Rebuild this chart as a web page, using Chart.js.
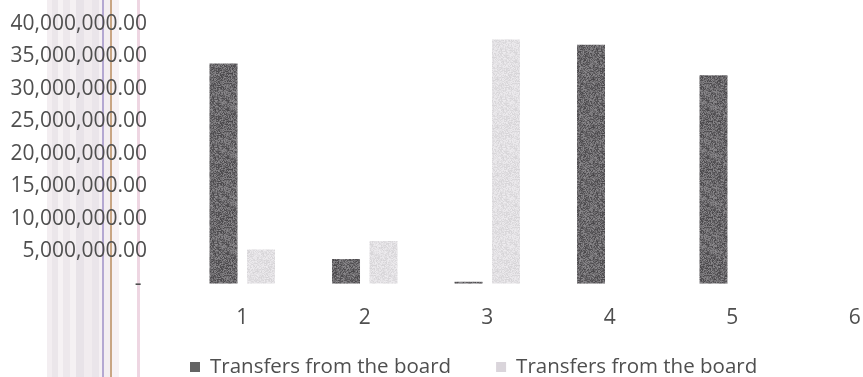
<!DOCTYPE html>
<html>
<head>
<meta charset="utf-8">
<script src="https://cdn.jsdelivr.net/npm/chart.js@4/dist/chart.umd.min.js"></script>
<style>
  html, body { margin: 0; padding: 0; background: #ffffff; overflow: hidden; }
  #wrap { position: relative; width: 920px; height: 377px; }
  /* faint vertical binding streaks down the left margin */
  #streaks {
    position: absolute; left: 0; top: 0; width: 150px; height: 377px;
    background: linear-gradient(to right,
      transparent 0 47px,
      #f3eef1 47px 52px,
      #ebe6ea 52px 58px,
      #f6f2f4 58px 63px,
      #ede8ec 63px 70px,
      #f5f1f3 70px 76px,
      #e8e3e8 76px 84px,
      #f1ecef 84px 92px,
      #eae5ea 92px 99px,
      #f5f0f3 99px 102px,
      #b4a8d2 102px 104px,
      #f3eef1 104px 110px,
      #c9a684 110px 112px,
      #f7f2f5 112px 119px,
      transparent 119px 137px,
      #eed6e2 137px 140px,
      transparent 140px);
  }
  canvas { position: absolute; left: 0; top: 0; }
</style>
</head>
<body>
<div id="wrap">
  <div id="streaks"></div>
  <canvas id="chart" width="920" height="377"></canvas>
</div>
<script>
// Categories and the two series (values in currency units)
const categories = ['1', '2', '3', '4', '5', '6'];
const seriesNames = ['Transfers from the board', 'Transfers from the board'];
const seriesA = [33900000, 3800000, 300000, 36800000, 32100000, null];
const seriesB = [5300000, 6600000, 37600000, null, null, null];
const yTicks = [0, 5000000, 10000000, 15000000, 20000000, 25000000, 30000000, 35000000, 40000000];

const FONT = '"Open Sans", "Liberation Sans", sans-serif';
const TEXT = '#4f4f4f';

// Grainy print texture for the bars, built from a fixed hash so it is stable
function grain(base, spread) {
  const c = document.createElement('canvas');
  c.width = 48; c.height = 48;
  const g = c.getContext('2d');
  const img = g.createImageData(48, 48);
  for (let y = 0; y < 48; y++) {
    for (let x = 0; x < 48; x++) {
      let h = (x * 374761393 + y * 668265263) ^ 0x5bd1e995;
      h = Math.imul(h ^ (h >>> 13), 1274126177);
      h = (h ^ (h >>> 16)) >>> 0;
      const n = (h % 1000) / 1000 - 0.5;
      const v = Math.max(0, Math.min(255, base + n * spread));
      const i = (y * 48 + x) * 4;
      img.data[i] = v + 2; img.data[i + 1] = v; img.data[i + 2] = v + 3; img.data[i + 3] = 255;
    }
  }
  g.putImageData(img, 0, 0);
  return g.createPattern(c, 'repeat');
}
const ctx = document.getElementById('chart').getContext('2d');
const darkFill = grain(104, 70);
const lightFill = grain(224, 24);

function money(v) {
  if (v === 0) return '- ';
  return v.toLocaleString('en-US', { minimumFractionDigits: 2, maximumFractionDigits: 2 });
}

// Legend drawn as a single row under the category labels
const rowLegend = {
  id: 'rowLegend',
  afterDraw(chart, args, opts) {
    const c = chart.ctx;
    c.save();
    c.font = opts.size + 'px ' + FONT;
    c.textBaseline = 'middle';
    c.textAlign = 'left';
    let x = opts.left;
    chart.data.datasets.forEach((ds, i) => {
      c.fillStyle = i === 0 ? '#646464' : '#dad5db';
      c.fillRect(x, opts.y - opts.box / 2, opts.box, opts.box);
      c.fillStyle = TEXT;
      const tx = x + opts.box + opts.textGap;
      c.fillText(ds.label, tx, opts.y);
      x = tx + c.measureText(ds.label).width + opts.itemGap;
    });
    c.restore();
  }
};

new Chart(ctx, {
  type: 'bar',
  data: {
    labels: categories,
    datasets: [
      { label: seriesNames[0], data: seriesA, backgroundColor: darkFill },
      { label: seriesNames[1], data: seriesB, backgroundColor: lightFill }
    ]
  },
  options: {
    responsive: false,
    animation: false,
    categoryPercentage: 0.612,
    barPercentage: 0.747,
    layout: { padding: { top: 24, right: 4, bottom: 24, left: 0 } },
    plugins: {
      legend: { display: false },
      tooltip: { enabled: false },
      rowLegend: { left: 190, y: 367, box: 10, textGap: 10, itemGap: 45, size: 20.5 }
    },
    scales: {
      x: {
        grid: { display: false, drawTicks: false },
        border: { display: false },
        ticks: { color: TEXT, font: { family: FONT, size: 21 }, padding: 22, maxRotation: 0 }
      },
      y: {
        min: 0,
        max: 40000000,
        afterBuildTicks(scale) { scale.ticks = yTicks.map(v => ({ value: v })); },
        afterFit(scale) {
          scale.width = 181;
          scale.paddingTop = 0;
          scale.paddingBottom = 0;
        },
        grid: { display: false, drawTicks: false },
        border: { display: false },
        ticks: { color: TEXT, font: { family: FONT, size: 21 }, padding: 34, autoSkip: false, callback: money }
      }
    }
  },
  plugins: [rowLegend]
});
</script>
</body>
</html>
